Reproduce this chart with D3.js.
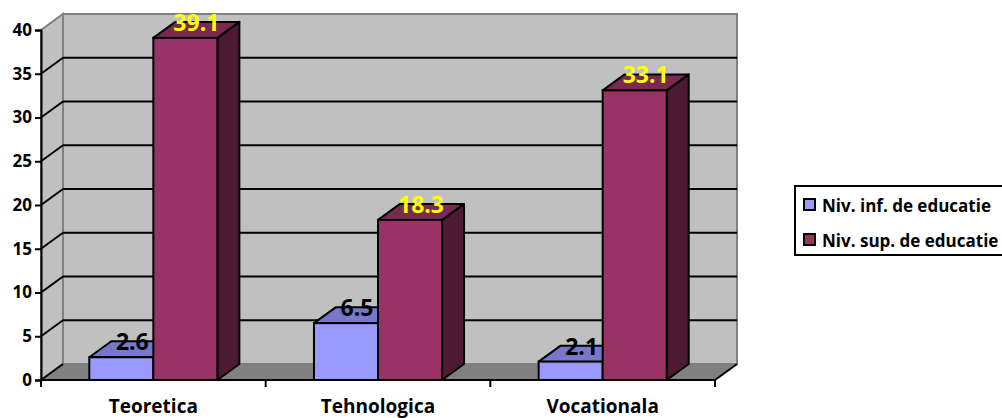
<!DOCTYPE html>
<html>
<head>
<meta charset="utf-8">
<script src="https://cdn.jsdelivr.net/npm/d3@7"></script>
<style>
body { margin: 0; background: #fff; }
text { font-family: "Open Sans", sans-serif; font-weight: bold; }
</style>
</head>
<body>
<script>
var w = 1002;
var h = 418;

var categories = ["Teoretica", "Tehnologica", "Vocationala"];
var series = ["Niv. inf. de educatie", "Niv. sup. de educatie"];
var inf = [2.6, 6.5, 2.1];
var sup = [39.1, 18.3, 33.1];
var yTicks = [0, 5, 10, 15, 20, 25, 30, 35, 40];

var front = ["#9999FF", "#993366"];
var top_ = ["#7777CC", "#7A2952"];
var side = ["#5C5C99", "#4D1A33"];
var labelColor = ["#000", "#FFFF00"];

// depth of the 3d box
var dx = 22, dy = -16;

var svg = d3.select("body")
    .append("svg")
    .attr("width", w)
    .attr("height", h);

var y = d3.scaleLinear().domain([0, 40]).range([380, 30]);
var x0 = d3.scaleBand().domain(categories).range([41, 715])
    .paddingInner(0.43).paddingOuter(0.215);
var x1 = d3.scaleBand().domain(series).range([0, x0.bandwidth()]);

var left = 41, right = 715, bottom = y(0), topY = y(40);

function pts(a) {
    return a.map(function (p) { return p.join(","); }).join(" ");
}

// walls
svg.append("polygon")
    .attr("points", pts([[left, topY], [left + dx, topY + dy], [left + dx, bottom + dy], [left, bottom]]))
    .attr("fill", "#C0C0C0").attr("stroke", "#808080").attr("stroke-width", 2);
svg.append("polygon")
    .attr("points", pts([[left + dx, topY + dy], [right + dx, topY + dy], [right + dx, bottom + dy], [left + dx, bottom + dy]]))
    .attr("fill", "#C0C0C0").attr("stroke", "#808080").attr("stroke-width", 2);
svg.append("polygon")
    .attr("points", pts([[left, bottom], [right, bottom], [right + dx, bottom + dy], [left + dx, bottom + dy]]))
    .attr("fill", "#808080");

// gridlines
var grid = yTicks.filter(function (d) { return d > 0 && d < 40; });
svg.selectAll("line.gb")
    .data(grid)
    .enter()
    .append("line")
    .attr("x1", left + dx).attr("x2", right + dx)
    .attr("y1", function (d) { return y(d) + dy; })
    .attr("y2", function (d) { return y(d) + dy; })
    .attr("stroke", "#000").attr("stroke-width", 2);
svg.selectAll("line.gs")
    .data(grid.concat([0]))
    .enter()
    .append("line")
    .attr("x1", left).attr("x2", left + dx)
    .attr("y1", function (d) { return y(d); })
    .attr("y2", function (d) { return y(d) + dy; })
    .attr("stroke", "#000").attr("stroke-width", 2);
svg.append("line")
    .attr("x1", right).attr("y1", bottom)
    .attr("x2", right + dx).attr("y2", bottom + dy)
    .attr("stroke", "#000").attr("stroke-width", 2);

// bars
var data = [];
categories.forEach(function (c, i) {
    data.push({cat: c, s: 0, v: inf[i]});
    data.push({cat: c, s: 1, v: sup[i]});
});

var bars = svg.selectAll("g.bar")
    .data(data)
    .enter()
    .append("g");

function bx(d) { return x0(d.cat) + x1(series[d.s]); }
var bw = x1.bandwidth();

bars.append("polygon")
    .attr("points", function (d) {
        var a = bx(d) + bw, t = y(d.v);
        return pts([[a, t], [a + dx, t + dy], [a + dx, bottom + dy], [a, bottom]]);
    })
    .attr("fill", function (d) { return side[d.s]; })
    .attr("stroke", "#000").attr("stroke-width", 2).attr("stroke-linejoin", "round");
bars.append("polygon")
    .attr("points", function (d) {
        var a = bx(d), t = y(d.v);
        return pts([[a, t], [a + dx, t + dy], [a + bw + dx, t + dy], [a + bw, t]]);
    })
    .attr("fill", function (d) { return top_[d.s]; })
    .attr("stroke", "#000").attr("stroke-width", 2).attr("stroke-linejoin", "round");
bars.append("rect")
    .attr("x", bx)
    .attr("y", function (d) { return y(d.v); })
    .attr("width", bw)
    .attr("height", function (d) { return bottom - y(d.v); })
    .attr("fill", function (d) { return front[d.s]; })
    .attr("stroke", "#000").attr("stroke-width", 2);

bars.append("text")
    .attr("x", function (d) { return bx(d) + bw / 2 + dx / 2; })
    .attr("y", function (d) { return y(d.v) + dy; })
    .attr("text-anchor", "middle")
    .attr("dominant-baseline", "central")
    .attr("font-size", 23)
    .attr("fill", function (d) { return labelColor[d.s]; })
    .text(function (d) { return d.v.toFixed(1); });

// y axis
var yAxis = d3.axisLeft(y).tickValues(yTicks).tickSize(6).tickPadding(3);
var gy = svg.append("g").attr("transform", "translate(" + left + ",0)").call(yAxis);
gy.select(".domain").attr("stroke", "#000").attr("stroke-width", 2);
gy.selectAll(".tick line").attr("stroke", "#000").attr("stroke-width", 2);
gy.selectAll(".tick text").attr("font-size", 17).attr("fill", "#000")
    .style("font-family", "'Open Sans', sans-serif").style("font-weight", "bold");

// x axis
svg.append("line")
    .attr("x1", left).attr("x2", right)
    .attr("y1", bottom).attr("y2", bottom)
    .attr("stroke", "#000").attr("stroke-width", 2);
svg.selectAll("line.xt")
    .data(d3.range(categories.length + 1))
    .enter()
    .append("line")
    .attr("x1", function (i) { return left + i * x0.step(); })
    .attr("x2", function (i) { return left + i * x0.step(); })
    .attr("y1", bottom).attr("y2", bottom + 7)
    .attr("stroke", "#000").attr("stroke-width", 2);
svg.selectAll("text.cat")
    .data(categories)
    .enter()
    .append("text")
    .attr("x", function (d) { return x0(d) + x0.bandwidth() / 2; })
    .attr("y", 413)
    .attr("text-anchor", "middle")
    .attr("font-size", 19)
    .text(function (d) { return d; });

// legend
var lg = svg.append("g").attr("transform", "translate(795,186)");
lg.append("rect")
    .attr("width", 215).attr("height", 69)
    .attr("fill", "#fff").attr("stroke", "#000").attr("stroke-width", 2);
var items = lg.selectAll("g.item")
    .data(series)
    .enter()
    .append("g")
    .attr("transform", function (d, i) { return "translate(0," + (i * 35) + ")"; });
items.append("rect")
    .attr("x", 9).attr("y", 13)
    .attr("width", 11).attr("height", 11)
    .attr("fill", function (d, i) { return front[i]; })
    .attr("stroke", "#000").attr("stroke-width", 2);
items.append("text")
    .attr("x", 27).attr("y", 26)
    .attr("font-size", 17)
    .text(function (d) { return d; });
</script>
</body>
</html>
